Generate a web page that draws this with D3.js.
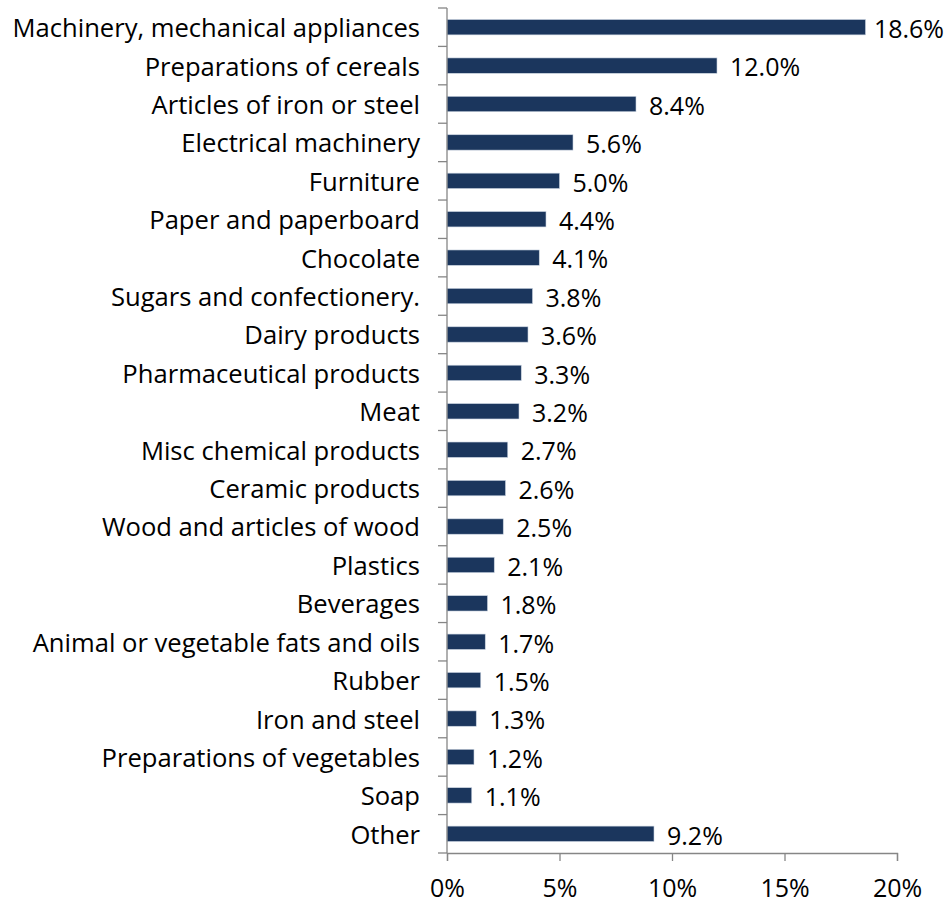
<!DOCTYPE html>
<html>
<head>
<meta charset="utf-8">
<script src="https://cdn.jsdelivr.net/npm/d3@7"></script>
<style>
  body { margin: 0; background: #fff; }
  text { font-family: "Open Sans", sans-serif; fill: #000; }
</style>
</head>
<body>
<svg width="947" height="904"></svg>
<script>
var categories = ["Machinery, mechanical appliances", "Preparations of cereals", "Articles of iron or steel",
  "Electrical machinery", "Furniture", "Paper and paperboard", "Chocolate", "Sugars and confectionery.",
  "Dairy products", "Pharmaceutical products", "Meat", "Misc chemical products", "Ceramic products",
  "Wood and articles of wood", "Plastics", "Beverages", "Animal or vegetable fats and oils", "Rubber",
  "Iron and steel", "Preparations of vegetables", "Soap", "Other"];
var values = [18.6, 12.0, 8.4, 5.6, 5.0, 4.4, 4.1, 3.8, 3.6, 3.3, 3.2, 2.7, 2.6, 2.5, 2.1, 1.8, 1.7, 1.5, 1.3, 1.2, 1.1, 9.2];
var xTicks = [0, 5, 10, 15, 20];

var svg = d3.select("svg"),
    margin = {top: 8, right: 50, bottom: 51, left: 447},
    width = 947 - margin.left - margin.right,
    height = 904 - margin.top - margin.bottom;

var g = svg.append("g")
  .attr("transform", "translate(" + margin.left + "," + margin.top + ")");

var x = d3.scaleLinear().domain([0, 20]).range([0, width]);
var y = d3.scaleBand().domain(categories).range([0, height]).paddingInner(0.6).paddingOuter(0.3);

// bars
g.selectAll(".bar")
  .data(values)
  .enter().append("rect")
  .attr("class", "bar")
  .attr("x", 0)
  .attr("y", function(d, i) { return y(categories[i]); })
  .attr("width", function(d) { return x(d); })
  .attr("height", y.bandwidth())
  .attr("fill", "#1b365d")
  .attr("stroke", "#c9d3e0")
  .attr("stroke-width", 0.6);

// value labels (pulled left if they would run off the right edge)
g.selectAll(".val")
  .data(values)
  .enter().append("text")
  .attr("class", "val")
  .attr("y", function(d, i) { return y(categories[i]) + y.bandwidth() / 2 + 2; })
  .attr("dy", "0.35em")
  .style("font-size", "25px")
  .text(function(d) { return d.toFixed(1) + "%"; })
  .attr("x", function(d) {
    var w = this.getComputedTextLength();
    return Math.min(x(d) + 13, 947 - margin.left - 3 - w);
  });

// y axis: category labels and ticks between rows
var yAxis = g.append("g").attr("class", "axis axis--y");
yAxis.append("line")
  .attr("x1", 0).attr("x2", 0).attr("y1", 0).attr("y2", height)
  .attr("stroke", "#868686").attr("stroke-width", 1.3);
yAxis.selectAll(".ytick")
  .data(d3.range(categories.length + 1))
  .enter().append("line")
  .attr("x1", -9).attr("x2", 0)
  .attr("y1", function(i) { return i * height / categories.length; })
  .attr("y2", function(i) { return i * height / categories.length; })
  .attr("stroke", "#868686").attr("stroke-width", 1.3);
yAxis.selectAll(".ylab")
  .data(categories)
  .enter().append("text")
  .attr("x", -27)
  .attr("y", function(d) { return y(d) + y.bandwidth() / 2 + 1; })
  .attr("dy", "0.35em")
  .attr("text-anchor", "end")
  .style("font-size", "25.6px")
  .text(function(d) { return d; });

// x axis
var xAxis = g.append("g")
  .attr("class", "axis axis--x")
  .attr("transform", "translate(0," + height + ")")
  .call(d3.axisBottom(x).tickValues(xTicks).tickSize(8).tickPadding(18).tickFormat(function(d) { return d + "%"; }));
xAxis.select(".domain").attr("stroke", "#868686").attr("stroke-width", 1.3);
xAxis.selectAll(".tick line").attr("stroke", "#868686").attr("stroke-width", 1.3);
xAxis.selectAll(".tick text").style("font-size", "25px").style("font-family", "'Open Sans', sans-serif").attr("fill", "#000");
</script>
</body>
</html>
